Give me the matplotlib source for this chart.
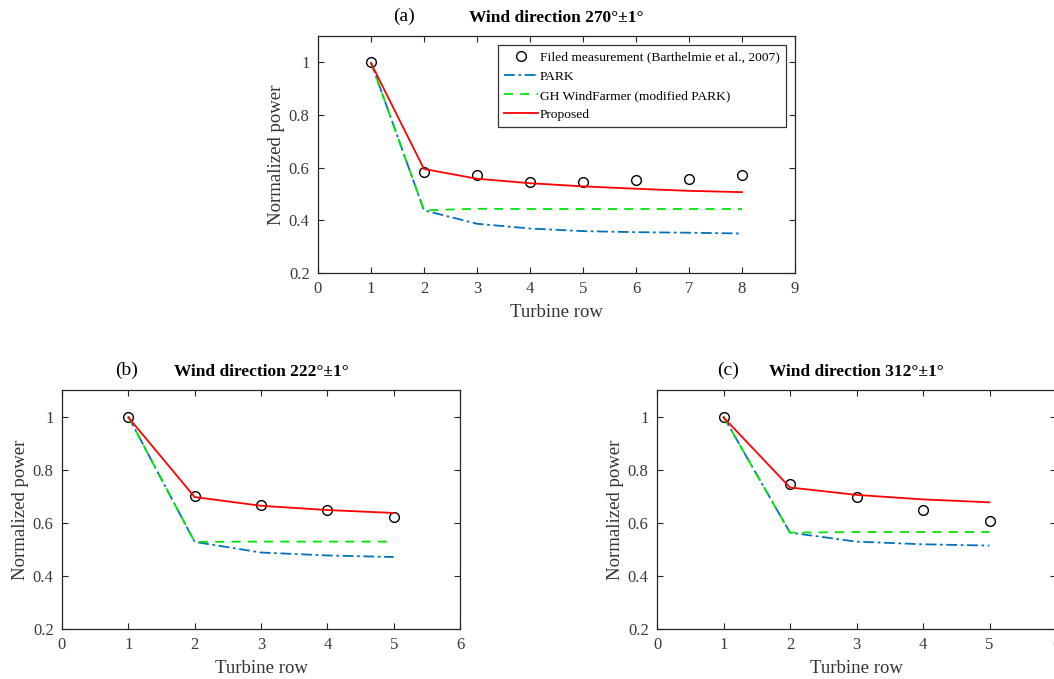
import numpy as np
import matplotlib.pyplot as plt
from matplotlib.transforms import ScaledTranslation

plt.rcParams['font.family'] = ['Liberation Serif', 'DejaVu Serif']

# panel (a) - 270 deg, 8 rows
rows_a = [1, 2, 3, 4, 5, 6, 7, 8]
meas_a = [1.0, 0.582, 0.574, 0.546, 0.545, 0.554, 0.558, 0.573]
park_a = [1.0, 0.438, 0.387, 0.369, 0.359, 0.355, 0.353, 0.350]
gh_a = [1.0, 0.438, 0.444, 0.443, 0.443, 0.443, 0.443, 0.443]
prop_a = [0.997, 0.595, 0.558, 0.541, 0.529, 0.520, 0.512, 0.507]

# panel (b) - 222 deg, 5 rows
rows_b = [1, 2, 3, 4, 5]
meas_b = [1.0, 0.702, 0.668, 0.649, 0.620]
park_b = [1.0, 0.528, 0.488, 0.477, 0.471]
gh_b = [1.0, 0.528, 0.529, 0.529, 0.529]
prop_b = [0.997, 0.697, 0.664, 0.648, 0.637]

# panel (c) - 312 deg, 5 rows
rows_c = [1, 2, 3, 4, 5]
meas_c = [1.0, 0.747, 0.698, 0.650, 0.608]
park_c = [1.0, 0.563, 0.529, 0.519, 0.514]
gh_c = [1.0, 0.563, 0.565, 0.565, 0.565]
prop_c = [0.997, 0.733, 0.705, 0.688, 0.677]

labels = ['Filed measurement (Barthelmie et al., 2007)', 'PARK',
          'GH WindFarmer (modified PARK)', 'Proposed']
c_park = '#0072BD'
c_gh = '#00E600'
c_prop = '#FF0000'


def draw(ax, rows, meas, park, gh, prop, xmax, tag, angle, tag_x):
    ax.plot(rows, meas, 'o', mfc='none', mec='black', ms=7, mew=1.0, label=labels[0])
    ax.plot(rows, park, color=c_park, lw=1.3, ls=(0, (6, 2, 1.5, 2)), label=labels[1])
    ax.plot(rows, gh, color=c_gh, lw=1.3, ls=(0, (5, 4)), label=labels[2])
    ax.plot(rows, prop, color=c_prop, lw=1.3, label=labels[3])
    ax.set_xlim(0, xmax)
    ax.set_ylim(0.2, 1.1)
    ax.set_xticks(range(0, xmax + 1))
    ax.set_yticks([0.2, 0.4, 0.6, 0.8, 1.0])
    ax.set_yticklabels(['0.2', '0.4', '0.6', '0.8', '1'])
    ax.tick_params(direction='in', top=True, right=True, labelsize=12, pad=6,
                   length=4, width=0.8, colors='#262626', labelcolor='#3a3a3a')
    for s in ax.spines.values():
        s.set_color('#262626')
        s.set_linewidth(0.9)
    ax.set_xlabel('Turbine row', fontsize=13.5, color='#333333', labelpad=5)
    ax.set_ylabel('Normalized power', fontsize=13.5, color='#333333', labelpad=3)
    ax.set_title('Wind direction ' + angle + '°±1°',
                 fontsize=12.5, fontweight='bold', pad=10)
    t = ax.text(tag_x, 1.0, tag, fontsize=14, ha='center', va='bottom')
    t.set_transform(ax.transAxes + ScaledTranslation(0, 11 / 100, fig.dpi_scale_trans))


fig = plt.figure(figsize=(10.54, 6.79), dpi=100)
W, H = 1054, 679
ax_a = fig.add_axes([318 / W, 1 - 273 / H, 477 / W, 237 / H])
ax_b = fig.add_axes([62 / W, 1 - 629 / H, 398 / W, 239 / H])
ax_c = fig.add_axes([657 / W, 1 - 629 / H, 399 / W, 239 / H])

draw(ax_a, rows_a, meas_a, park_a, gh_a, prop_a, 9, '(a)', '270', 0.18)
draw(ax_b, rows_b, meas_b, park_b, gh_b, prop_b, 6, '(b)', '222', 0.163)
draw(ax_c, rows_c, meas_c, park_c, gh_c, prop_c, 6, '(c)', '312', 0.178)

leg = ax_a.legend(loc='upper right', fontsize=9.7, handlelength=2.5, handletextpad=0.15,
                  borderpad=0.45, labelspacing=0.5, fancybox=False, framealpha=1,
                  edgecolor='#333333', bbox_to_anchor=(0.981, 0.962), borderaxespad=0)
leg.get_frame().set_linewidth(0.9)

fig.savefig('out.png', dpi=100)
